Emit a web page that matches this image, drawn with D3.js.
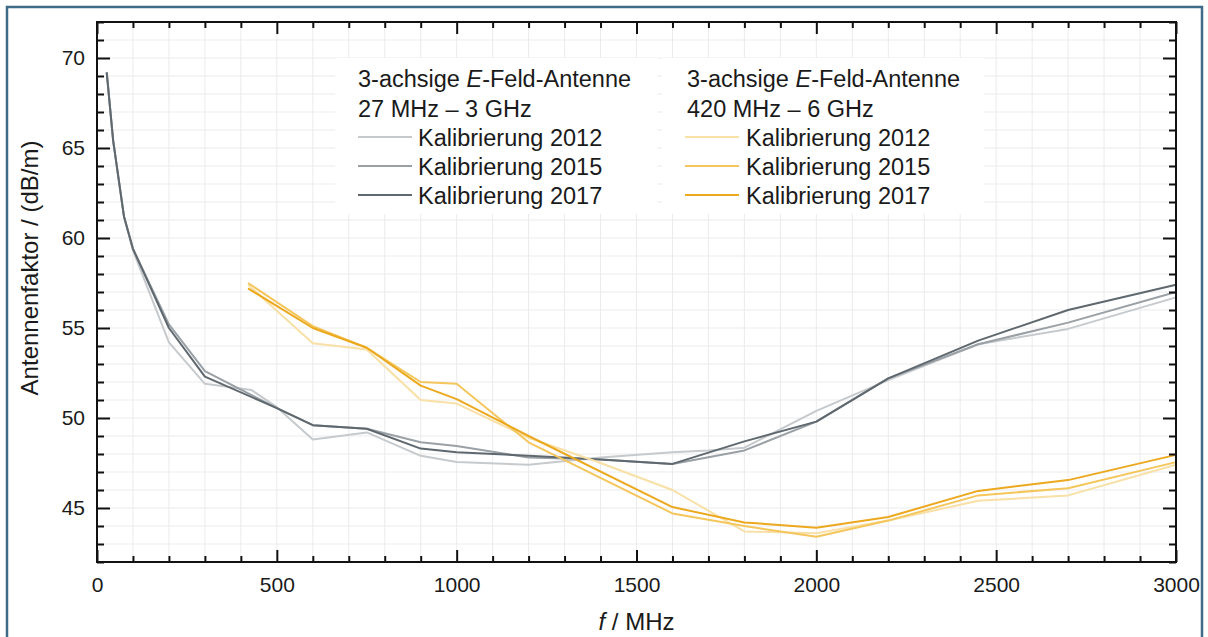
<!DOCTYPE html>
<html>
<head>
<meta charset="utf-8">
<script src="https://cdn.jsdelivr.net/npm/d3@7"></script>
<style>
  body { margin: 0; background: #fff; }
  svg { display: block; font-family: "Liberation Sans", Arial, sans-serif; }
</style>
</head>
<body>
<svg id="chart" width="1208" height="637"></svg>
<script>
// 3-achsige E-Feld-Antenne 27 MHz - 3 GHz
const freqGray2012 = [27, 45, 75, 100, 200, 300, 430, 500, 600, 750, 900, 1000, 1200, 1400, 1600, 1700, 1800, 2000, 2200, 2450, 2700, 3000]
const valGray2012  = [69.2, 65.4, 61.2, 59.3, 54.2, 51.9, 51.55, 50.6, 48.8, 49.2, 47.9, 47.55, 47.4, 47.8, 48.1, 48.2, 48.35, 50.4, 52.1, 54.1, 54.95, 56.7]

const freqGray2015 = [27, 45, 75, 100, 200, 300, 500, 600, 750, 900, 1000, 1200, 1400, 1600, 1800, 2000, 2200, 2450, 2700, 3000]
const valGray2015  = [69.2, 65.4, 61.2, 59.4, 55.2, 52.6, 50.55, 49.6, 49.4, 48.65, 48.45, 47.8, 47.7, 47.45, 48.2, 49.8, 52.2, 54.1, 55.3, 57.0]

const freqGray2017 = [27, 45, 75, 100, 200, 300, 500, 600, 750, 900, 1000, 1200, 1400, 1600, 1800, 2000, 2200, 2450, 2700, 3000]
const valGray2017  = [69.2, 65.4, 61.2, 59.4, 55.0, 52.3, 50.55, 49.6, 49.4, 48.3, 48.1, 47.9, 47.7, 47.45, 48.7, 49.8, 52.2, 54.3, 56.0, 57.4]

// 3-achsige E-Feld-Antenne 420 MHz - 6 GHz
const freqOrange2012 = [420, 600, 750, 900, 1000, 1200, 1400, 1600, 1800, 2000, 2200, 2450, 2700, 3000]
const valOrange2012  = [57.4, 54.15, 53.8, 51.0, 50.8, 48.9, 47.5, 46.0, 43.7, 43.6, 44.3, 45.4, 45.7, 47.4]

const freqOrange2015 = [420, 600, 750, 900, 1000, 1200, 1600, 1800, 2000, 2200, 2450, 2700, 3000]
const valOrange2015  = [57.5, 55.1, 53.9, 52.0, 51.9, 48.65, 44.7, 44.0, 43.4, 44.3, 45.7, 46.1, 47.55]

const freqOrange2017 = [420, 600, 750, 900, 1000, 1200, 1600, 1800, 2000, 2200, 2450, 2700, 3000]
const valOrange2017  = [57.2, 55.0, 53.9, 51.8, 51.05, 49.0, 45.05, 44.2, 43.9, 44.5, 45.95, 46.55, 47.95]

const xMajorTicks = [0, 500, 1000, 1500, 2000, 2500, 3000]
const yMajorTicks = [45, 50, 55, 60, 65, 70]

const legendGroups = [
    { title: "27 MHz \u2013 3 GHz", labels: ["Kalibrierung 2012", "Kalibrierung 2015", "Kalibrierung 2017"] },
    { title: "420 MHz \u2013 6 GHz", labels: ["Kalibrierung 2012", "Kalibrierung 2015", "Kalibrierung 2017"] }
]

const grayColors   = ["#c6cacd", "#9aa1a6", "#5e686e"]
const orangeColors = ["#f8e0a6", "#f4c65c", "#eca81e"]

const margin = { left: 97, right: 1176, top: 22, bottom: 562 }

const svg = d3.select("#chart")

let x = d3.scaleLinear().domain([0, 3000]).range([margin.left, margin.right])
let y = d3.scaleLinear().domain([42, 72]).range([margin.bottom, margin.top])

// outer frame (bottom edge is cut off in the picture)
svg.append("path")
    .attr("d", `M7,640 V7 H1202 V640`)
    .attr("fill", "none")
    .attr("stroke", "#3f6b89")
    .attr("stroke-width", 2.5)

// grid
const grid = svg.append("g").attr("stroke", "#ebebeb").attr("stroke-width", 1)
grid.selectAll("line.gx")
    .data(d3.range(100, 3000, 100))
    .join("line")
    .attr("x1", d => x(d)).attr("x2", d => x(d))
    .attr("y1", margin.top).attr("y2", margin.bottom)
grid.selectAll("line.gy")
    .data(d3.range(43, 72, 1))
    .join("line")
    .attr("y1", d => y(d)).attr("y2", d => y(d))
    .attr("x1", margin.left).attr("x2", margin.right)

// series
let line = d3.line().x(d => x(d[0])).y(d => y(d[1]))
const series = [
    [freqGray2012, valGray2012, grayColors[0]],
    [freqGray2015, valGray2015, grayColors[1]],
    [freqGray2017, valGray2017, grayColors[2]],
    [freqOrange2012, valOrange2012, orangeColors[0]],
    [freqOrange2015, valOrange2015, orangeColors[1]],
    [freqOrange2017, valOrange2017, orangeColors[2]]
]
svg.append("g")
    .selectAll("path")
    .data(series)
    .join("path")
    .attr("d", s => line(d3.zip(s[0], s[1])))
    .attr("fill", "none")
    .attr("stroke", s => s[2])
    .attr("stroke-width", 2)
    .attr("stroke-linejoin", "round")

// axes, ticks point inward on all four sides
function styleAxis(g) {
    g.select(".domain").remove()
    g.selectAll(".tick line").attr("stroke", "#111").attr("stroke-width", 2)
    g.selectAll(".tick text")
        .attr("fill", "#1a1a1a")
        .style("font-size", "21px")
        .style("font-family", "'Liberation Sans', Arial, sans-serif")
}

const xMinor = d3.range(0, 3001, 100).filter(d => d % 500 !== 0)
const yMinor = d3.range(42, 73, 1).filter(d => d % 5 !== 0)

svg.append("g").attr("transform", `translate(0,${margin.bottom})`)
    .call(d3.axisBottom(x).tickValues(xMajorTicks).tickSize(-12).tickPadding(15).tickSizeOuter(0).tickFormat(d3.format("d")))
    .call(styleAxis)
svg.append("g").attr("transform", `translate(0,${margin.bottom})`)
    .call(d3.axisBottom(x).tickValues(xMinor).tickSize(-6).tickFormat(""))
    .call(styleAxis)
svg.append("g").attr("transform", `translate(0,${margin.top})`)
    .call(d3.axisTop(x).tickValues(xMajorTicks).tickSize(-12).tickFormat(""))
    .call(styleAxis)
svg.append("g").attr("transform", `translate(0,${margin.top})`)
    .call(d3.axisTop(x).tickValues(xMinor).tickSize(-6).tickFormat(""))
    .call(styleAxis)

svg.append("g").attr("transform", `translate(${margin.left},0)`)
    .call(d3.axisLeft(y).tickValues(yMajorTicks).tickSize(-13).tickPadding(12).tickFormat(d3.format("d")))
    .call(styleAxis)
svg.append("g").attr("transform", `translate(${margin.left},0)`)
    .call(d3.axisLeft(y).tickValues(yMinor).tickSize(-7).tickFormat(""))
    .call(styleAxis)
svg.append("g").attr("transform", `translate(${margin.right},0)`)
    .call(d3.axisRight(y).tickValues(yMajorTicks).tickSize(-13).tickFormat(""))
    .call(styleAxis)
svg.append("g").attr("transform", `translate(${margin.right},0)`)
    .call(d3.axisRight(y).tickValues(yMinor).tickSize(-7).tickFormat(""))
    .call(styleAxis)

// plot box
svg.append("rect")
    .attr("x", margin.left).attr("y", margin.top)
    .attr("width", margin.right - margin.left)
    .attr("height", margin.bottom - margin.top)
    .attr("fill", "none")
    .attr("stroke", "#111")
    .attr("stroke-width", 2)

// axis titles
svg.append("text")
    .attr("transform", `translate(38,${(margin.top + margin.bottom) / 2 - 24}) rotate(-90)`)
    .attr("text-anchor", "middle")
    .attr("fill", "#1a1a1a")
    .style("font-size", "24px")
    .text("Antennenfaktor / (dB/m)")

const xTitle = svg.append("text")
    .attr("x", (margin.left + margin.right) / 2)
    .attr("y", 630)
    .attr("text-anchor", "middle")
    .attr("fill", "#1a1a1a")
    .style("font-size", "24px")
xTitle.append("tspan").style("font-style", "italic").text("f")
xTitle.append("tspan").text(" / MHz")

// legends
const legendPos = [
    { box: 335, text: 358, sample: [358, 412], label: 418 },
    { box: 662, text: 687, sample: [685, 739], label: 746 }
]
const legendColors = [grayColors, orangeColors]

legendGroups.forEach((grp, i) => {
    let p = legendPos[i]
    let g = svg.append("g").style("font-size", "23.5px").attr("fill", "#1a1a1a")

    g.append("rect")
        .attr("x", p.box).attr("y", 58)
        .attr("width", 322).attr("height", 156)
        .attr("fill", "#fff")

    let t = g.append("text").attr("x", p.text).attr("y", 87)
    t.append("tspan").text("3-achsige ")
    t.append("tspan").style("font-style", "italic").text("E")
    t.append("tspan").text("-Feld-Antenne")

    g.append("text").attr("x", p.text).attr("y", 117).text(grp.title)

    grp.labels.forEach((lab, j) => {
        let base = 146 + j * 29
        g.append("line")
            .attr("x1", p.sample[0]).attr("x2", p.sample[1])
            .attr("y1", base - 9).attr("y2", base - 9)
            .attr("stroke", legendColors[i][j])
            .attr("stroke-width", 2)
        g.append("text").attr("x", p.label).attr("y", base).text(lab)
    })
})
</script>
</body>
</html>
